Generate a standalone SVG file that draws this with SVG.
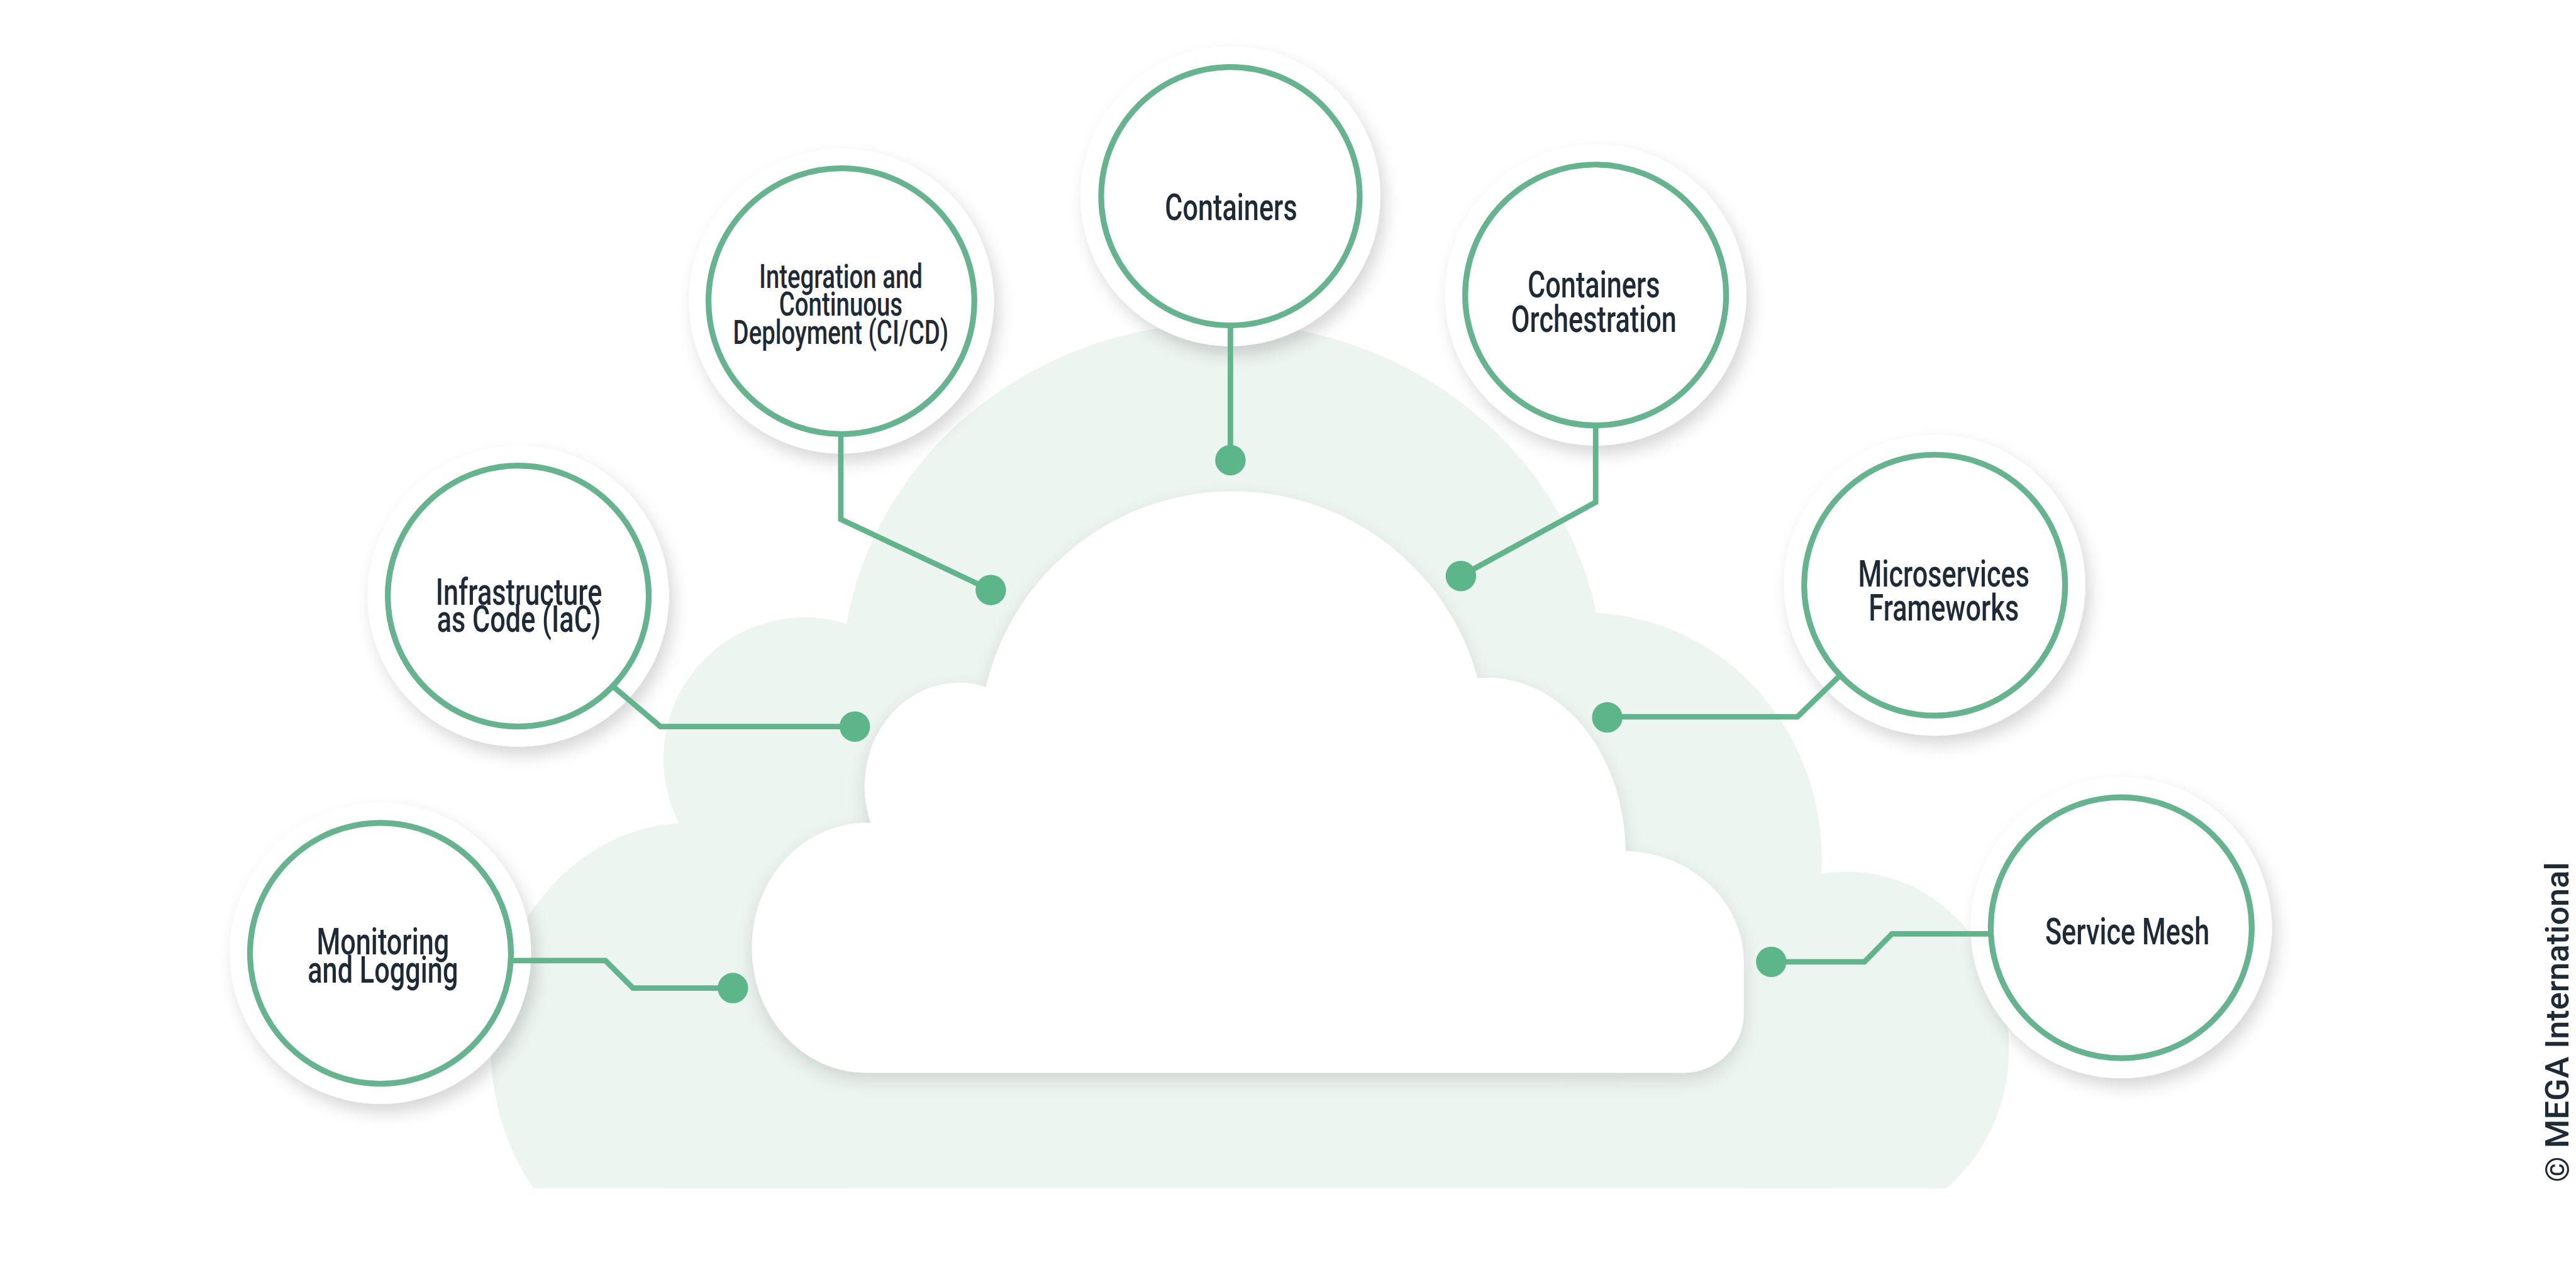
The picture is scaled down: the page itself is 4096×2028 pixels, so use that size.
<svg xmlns="http://www.w3.org/2000/svg" width="4096" height="2028" viewBox="0 0 4096 2028">
<defs>
<style>
.bg{fill:#edf5f1}
.cloud{fill:#ffffff}
.halo{fill:#ffffff;filter:url(#haloShadow)}
.ring{fill:#ffffff;stroke:#66b38f;stroke-width:9.5}
.wire{fill:none;stroke:#62b48c;stroke-width:9;stroke-linejoin:miter}
.dot{fill:#5db58a}
.lbl{font-family:Roboto,"Liberation Sans",sans-serif;font-weight:500;font-size:62px;fill:#1f2a37;text-anchor:middle}
.lbl.sm{font-size:55px}
.copy{font-family:Roboto,"Liberation Sans",sans-serif;font-weight:500;font-size:54px;fill:#1f2a37;text-anchor:middle}
</style>
<filter id="haloShadow" x="-25%" y="-25%" width="150%" height="150%">
<feDropShadow dx="8" dy="14" stdDeviation="13" flood-color="#000000" flood-opacity="0.16"/>
</filter>
<filter id="cloudShadow" x="-10%" y="-10%" width="120%" height="125%">
<feDropShadow dx="0" dy="12" stdDeviation="14" flood-color="#000000" flood-opacity="0.13"/>
</filter>
<clipPath id="bgClip"><rect x="0" y="0" width="4225" height="1950"/></clipPath>
</defs>
<rect x="0" y="0" width="4096" height="2028" fill="#ffffff"/>
<g transform="scale(0.9695)">
<g id="bg-cloud" class="bg" clip-path="url(#bgClip)">
<ellipse cx="2005" cy="1120" rx="625" ry="590"/>
<circle cx="1320" cy="1245" r="232"/>
<ellipse cx="1130" cy="1720" rx="325" ry="370"/>
<ellipse cx="2600" cy="1410" rx="388" ry="405"/>
<ellipse cx="3030" cy="1720" rx="265" ry="290"/>
<rect x="1100" y="1450" width="1890" height="510"/>
</g>
<g id="white-cloud" class="cloud" filter="url(#cloudShadow)">
<circle cx="2022" cy="1222" r="416"/>
<ellipse cx="1573" cy="1290" rx="155" ry="170"/>
<ellipse cx="1420" cy="1555" rx="187" ry="205"/>
<ellipse cx="2440" cy="1400" rx="226" ry="288"/>
<ellipse cx="2660" cy="1578" rx="200" ry="182"/>
<path d="M2560,1578 H2860 V1662 A98,98 0 0 1 2762,1760 H2560 Z"/>
<rect x="1420" y="1400" width="1240" height="360"/>
</g>
<g id="node-containers">
<circle class="halo" cx="2018" cy="322" r="246"/>
<circle class="ring" cx="2018" cy="322" r="212"/>
<g transform="translate(2019 0) scale(0.72 1)"><text class="lbl" x="0" y="361">Containers</text></g>
</g>
<g id="node-cicd">
<circle class="halo" cx="1380" cy="494" r="250"/>
<circle class="ring" cx="1380" cy="494" r="218"/>
<g transform="translate(1379 0) scale(0.72 1)"><text class="lbl sm" x="0" y="472">Integration and</text><text class="lbl sm" x="0" y="518">Continuous</text><text class="lbl sm" x="0" y="564">Deployment (CI/CD)</text></g>
</g>
<g id="node-orchestration">
<circle class="halo" cx="2617" cy="484" r="247"/>
<circle class="ring" cx="2617" cy="484" r="214"/>
<g transform="translate(2614 0) scale(0.72 1)"><text class="lbl" x="0" y="488">Containers</text><text class="lbl" x="0" y="545">Orchestration</text></g>
</g>
<g id="node-iac">
<circle class="halo" cx="850" cy="978" r="247"/>
<circle class="ring" cx="850" cy="978" r="214"/>
<g transform="translate(851 0) scale(0.72 1)"><text class="lbl" x="0" y="992">Infrastructure</text><text class="lbl" x="0" y="1037">as Code (IaC)</text></g>
</g>
<g id="node-microservices">
<circle class="halo" cx="3173" cy="960" r="247"/>
<circle class="ring" cx="3173" cy="960" r="214"/>
<g transform="translate(3188 0) scale(0.72 1)"><text class="lbl" x="0" y="962">Microservices</text><text class="lbl" x="0" y="1018">Frameworks</text></g>
</g>
<g id="node-monitoring">
<circle class="halo" cx="624" cy="1564" r="247"/>
<circle class="ring" cx="624" cy="1564" r="214"/>
<g transform="translate(628 0) scale(0.72 1)"><text class="lbl" x="0" y="1566">Monitoring</text><text class="lbl" x="0" y="1612">and Logging</text></g>
</g>
<g id="node-servicemesh">
<circle class="halo" cx="3479" cy="1522" r="247"/>
<circle class="ring" cx="3479" cy="1522" r="214"/>
<g transform="translate(3489 0) scale(0.72 1)"><text class="lbl" x="0" y="1549">Service Mesh</text></g>
</g>
<g id="connectors">
<polyline class="wire" points="2018,534 2018,755"/>
<polyline class="wire" points="1379,712 1379,852 1625,968"/>
<polyline class="wire" points="2617,698 2617,824 2396,945"/>
<polyline class="wire" points="1004,1125 1083,1192 1402,1192"/>
<polyline class="wire" points="3018,1108 2948,1176 2636,1176"/>
<polyline class="wire" points="838,1576 993,1576 1038,1621 1202,1621"/>
<polyline class="wire" points="3265,1532 3103,1532 3058,1578 2905,1578"/>
<circle class="dot" cx="2018" cy="755" r="25"/>
<circle class="dot" cx="1625" cy="968" r="25"/>
<circle class="dot" cx="2396" cy="945" r="25"/>
<circle class="dot" cx="1402" cy="1192" r="25"/>
<circle class="dot" cx="2636" cy="1177" r="25"/>
<circle class="dot" cx="1202" cy="1621" r="25"/>
<circle class="dot" cx="2905" cy="1578" r="25"/>
</g>
<g id="copyright">
<text class="copy" transform="translate(4212 1677) rotate(-90)">© MEGA International</text>
</g>
</g>
</svg>
